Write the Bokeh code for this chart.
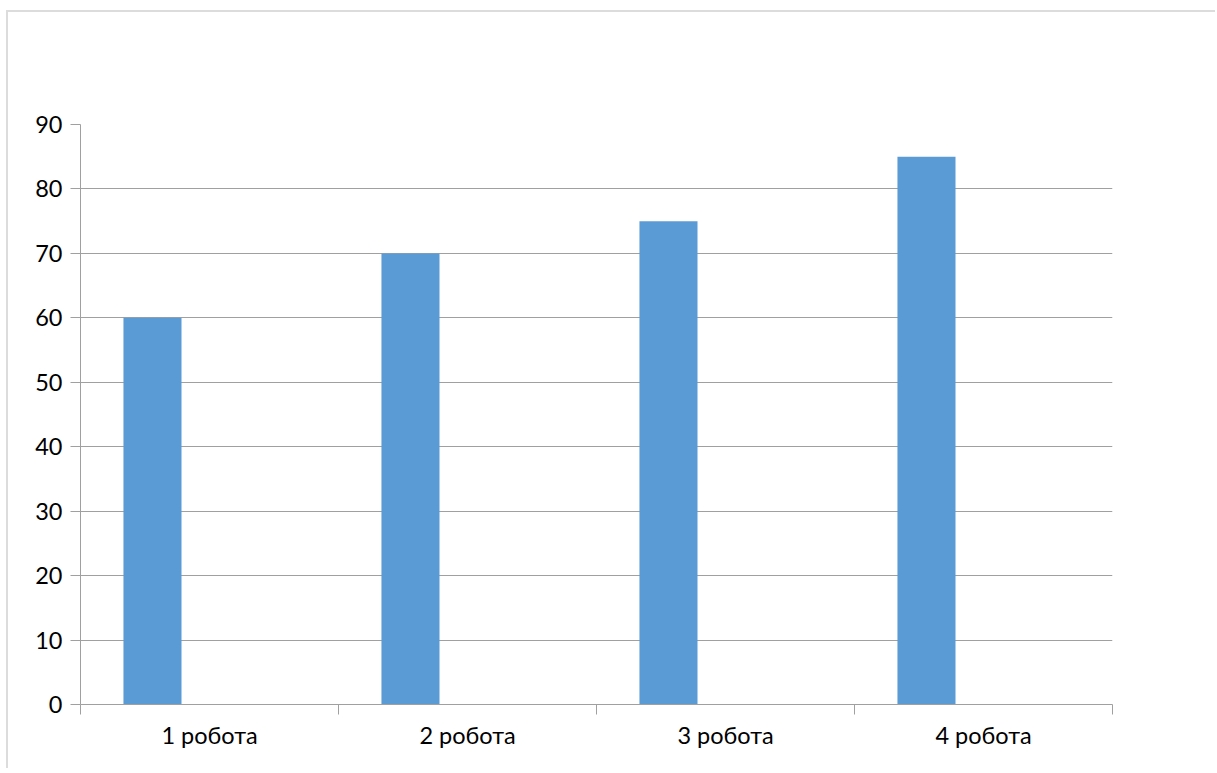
from bokeh.plotting import figure
from bokeh.models import Range1d, FixedTicker, ColumnDataSource
from bokeh.embed import file_html
from bokeh.resources import INLINE

categories = ["1 робота", "2 робота", "3 робота", "4 робота"]
values = [60, 70, 75, 85]
y_ticks = [0, 10, 20, 30, 40, 50, 60, 70, 80, 90]

FONT = "Lato"
GRID = "#a0a0a0"
BAR = "#5B9BD5"

ML, MT, B = 6, 10, 2
W, H = 1209, 758
LEFT = 80 - ML - B
TOP = 124 - MT - B
p = figure(width=W, height=H, output_backend="svg", toolbar_location=None,
           x_range=Range1d(0, len(categories)), y_range=Range1d(0, 90),
           min_border_left=LEFT, min_border_right=W - LEFT - 1032, min_border_top=TOP,
           min_border_bottom=H - TOP - 580)
p.outline_line_color = None
p.background_fill_color = "white"
p.border_fill_color = "white"
p.styles = {"margin-left": f"{ML}px", "margin-top": f"{MT}px",
            "border-top": f"{B}px solid #dcdcdc", "border-left": f"{B}px solid #dcdcdc"}

xs = [i + 0.279 for i in range(len(categories))]
src = ColumnDataSource(dict(x=xs, top=values))
p.vbar(x="x", top="top", bottom=0, width=0.225, source=src, fill_color=BAR, line_color=None)

# x axis: labels centered on category, tick marks at category boundaries
p.xaxis.ticker = FixedTicker(ticks=[i + 0.5 for i in range(len(categories))],
                             minor_ticks=list(range(len(categories) + 1)))
p.xaxis.major_label_overrides = {i + 0.5: c for i, c in enumerate(categories)}
p.xaxis.major_tick_line_color = None
p.xaxis.minor_tick_in = 0
p.xaxis.minor_tick_out = 10
p.xaxis.minor_tick_line_color = GRID
p.xaxis.axis_line_color = GRID
p.xaxis.major_label_standoff = 6
p.xaxis.major_label_text_font = FONT
p.xaxis.major_label_text_font_size = "23.5px"
p.xaxis.major_label_text_color = "black"
p.xgrid.grid_line_color = None

p.yaxis.ticker = FixedTicker(ticks=y_ticks, minor_ticks=[])
p.yaxis.major_tick_in = 0
p.yaxis.major_tick_out = 10
p.yaxis.major_tick_line_color = GRID
p.yaxis.axis_line_color = GRID
p.yaxis.major_label_standoff = 8
p.yaxis.major_label_text_font = FONT
p.yaxis.major_label_text_font_size = "23.5px"
p.yaxis.major_label_text_color = "black"
p.ygrid.grid_line_color = GRID
p.ygrid.ticker = FixedTicker(ticks=y_ticks)

open("out.html", "w").write(file_html(p, INLINE))
